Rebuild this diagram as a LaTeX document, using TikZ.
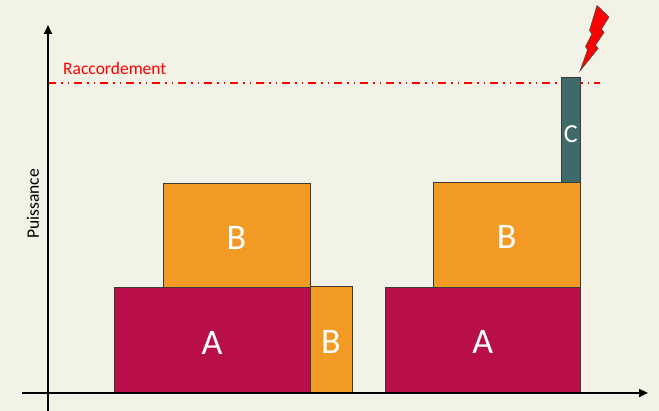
\documentclass[tikz,border=0pt]{standalone}
\usepackage{fontspec}
\setmainfont{Carlito}
\usetikzlibrary{arrows.meta}
\definecolor{bg}{HTML}{F2F2E6}
\definecolor{colA}{HTML}{B80F4A}
\definecolor{colB}{HTML}{F29A24}
\definecolor{colC}{HTML}{3E6A6A}
\definecolor{edge}{HTML}{3A3A3A}
\tikzset{
  blk/.style={draw=edge, line width=0.9pt, inner sep=0pt, outer sep=0pt, anchor=north west, text=white},
  ablk/.style={blk, fill=colA, font=\fontsize{36}{40}\selectfont, text height=28pt, text depth=0pt},
  bblk/.style={blk, fill=colB, font=\fontsize{36}{40}\selectfont, text height=28pt, text depth=0pt},
  cblk/.style={blk, fill=colC, font=\fontsize{26}{30}\selectfont, text height=26pt, text depth=0pt},
  axis/.style={line width=2.6pt, -{Triangle[length=9pt,width=8pt]}},
  lvl/.style={red, line width=1.4pt, dash pattern=on 8pt off 5pt on 1.5pt off 5pt on 1.5pt off 5pt},
  lbl/.style={font=\fontsize{17.5}{20}\selectfont}
}
\begin{document}
\begin{tikzpicture}[x=1pt,y=-1pt]
\fill[bg] (0,0) rectangle (659,411);
\useasboundingbox (0,0) rectangle (659,411);
% axes
\coordinate (yb) at (48,411);
\coordinate (yt) at (48,25);
\coordinate (xl) at (22,393);
\coordinate (xr) at (648,393);
% level line
\coordinate (l1) at (48,83);
\coordinate (l2) at (600,83);
\draw[lvl] (l1) -- (l2);
\node[lbl, red, anchor=base west, inner sep=0pt] (rac) at (63,75) {Raccordement};
\node[lbl, rotate=90, inner sep=0pt] (pui) at (33,204) {Puissance};
% left stack
\node[ablk, minimum width=196pt, minimum height=105.5pt] (A1) at (114,287.5) {A};
\node[bblk, minimum width=42pt, minimum height=106.5pt] (B2) at (310,286.5) {B};
\node[bblk, minimum width=147pt, minimum height=104.5pt] (B1) at (163,183) {B};
% right stack
\node[ablk, minimum width=195.5pt, minimum height=106pt] (A3) at (385,287) {A};
\node[bblk, minimum width=147.5pt, minimum height=105pt] (B3) at (433,182) {B};
\node[cblk, minimum width=19.5pt, minimum height=105pt] (C3) at (561,77) {C};
% axes on top
\draw[axis] (yb) -- (yt);
\draw[axis] (xl) -- (xr);
% lightning
\draw[fill=red, draw=black!70, line width=0.6pt]
  (597,5.5) -- (609,17) -- (601.5,29) -- (604,32.5) -- (595.5,45) -- (598,48.5)
  -- (580,71) -- (587.5,50) -- (585.5,46.5) -- (592,34) -- (589.5,30.5) -- cycle;
\end{tikzpicture}
\end{document}
